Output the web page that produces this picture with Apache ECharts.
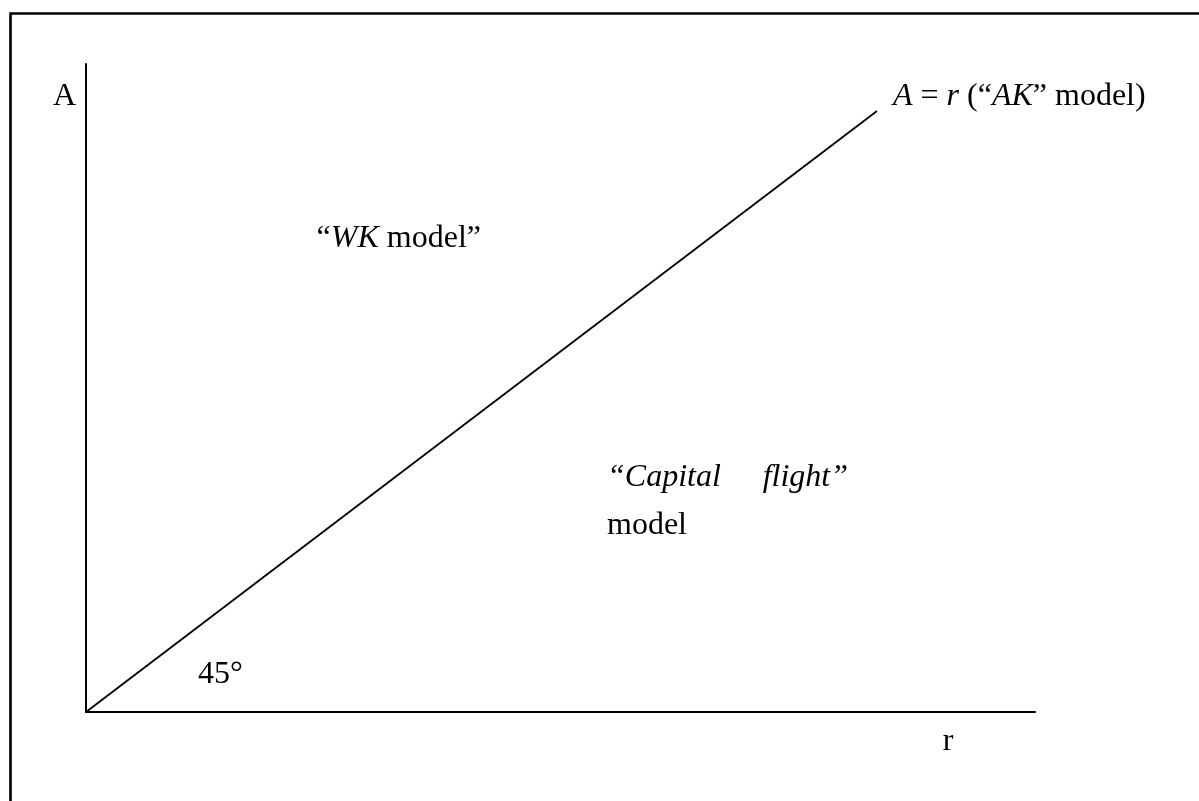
<!DOCTYPE html>
<html>
<head>
<meta charset="utf-8">
<style>
  html, body { margin: 0; padding: 0; background: #fff; }
  #chart { width: 1199px; height: 801px; }
</style>
<script src="https://cdn.jsdelivr.net/npm/echarts@6/dist/echarts.min.js"></script>
</head>
<body>
<div id="chart"></div>
<script>
// A = r line, from the origin to its end
const lineX = [0, 83.35]
const lineY = [0, 92.75]

// region notes, anchored in data space (left edge, middle of text)
const noteText = ['“{i|WK} model”', '{i|“Capital}', '{i|flight”}', 'model', '45°']
const noteX = [24.3, 54.9, 71.3, 54.9, 11.8]
const noteY = [73.0, 36.2, 36.2, 28.7, 5.8]

const serif = '"Liberation Serif", "Times New Roman", serif'
const fs = 32

const rich = {
  i: { fontStyle: 'italic', fontFamily: serif, fontSize: fs, color: '#000' }
}

const chart = echarts.init(document.getElementById('chart'))

chart.setOption({
  animation: false,
  backgroundColor: '#fff',
  grid: { left: 86, top: 64, right: 164, bottom: 89 },
  xAxis: {
    type: 'value',
    min: 0,
    max: 100,
    name: 'r',
    nameLocation: 'end',
    nameGap: -87,
    nameTextStyle: {
      fontFamily: serif, fontSize: fs, color: '#000',
      align: 'center', verticalAlign: 'top', lineHeight: 60
    },
    axisLine: { lineStyle: { color: '#000', width: 2 } },
    axisTick: { show: false },
    axisLabel: { show: false },
    splitLine: { show: false }
  },
  yAxis: {
    type: 'value',
    min: 0,
    max: 100,
    name: 'A',
    nameLocation: 'end',
    nameGap: -33,
    nameTextStyle: {
      fontFamily: serif, fontSize: fs, color: '#000',
      align: 'right', verticalAlign: 'middle', padding: [0, 10, 0, 0]
    },
    axisLine: { lineStyle: { color: '#000', width: 2 } },
    axisTick: { show: false },
    axisLabel: { show: false },
    splitLine: { show: false }
  },
  series: [{
    type: 'line',
    data: lineX.map((x, i) => [x, lineY[i]]),
    showSymbol: false,
    lineStyle: { color: '#000', width: 1.8 },
    endLabel: {
      show: true,
      formatter: '{i|A} = {i|r} (“{i|AK}” model)',
      fontFamily: serif,
      fontSize: fs,
      color: '#000',
      distance: 16,
      offset: [0, -14],
      rich: rich
    }
  }]
})

// frame (left and top edges only) plus the notes
const graphics = [{
  type: 'polyline',
  shape: { points: [[10.5, 801], [10.5, 13.5], [1199, 13.5]] },
  style: { stroke: '#000', lineWidth: 2.6, fill: null }
}]
noteText.forEach((t, i) => {
  const p = chart.convertToPixel({ gridIndex: 0 }, [noteX[i], noteY[i]])
  graphics.push({
    type: 'text',
    x: p[0],
    y: p[1],
    style: {
      text: t,
      fontFamily: serif,
      fontSize: fs,
      fill: '#000',
      align: 'left',
      verticalAlign: 'middle',
      rich: rich
    }
  })
})
chart.setOption({ graphic: graphics })
</script>
</body>
</html>
